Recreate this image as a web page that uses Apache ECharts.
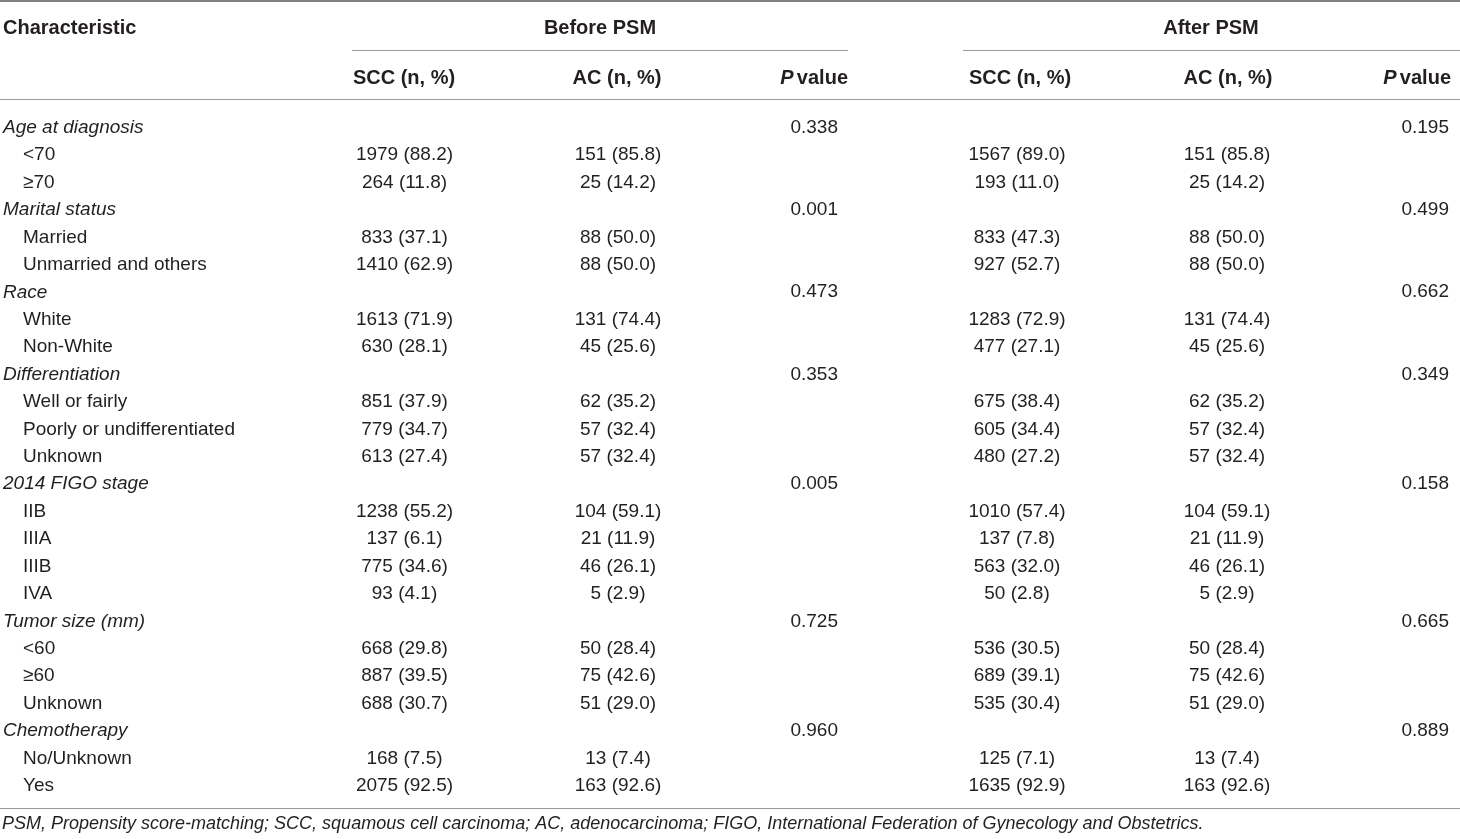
<!DOCTYPE html>
<html>
<head>
<meta charset="utf-8">
<title>Baseline characteristics before and after PSM</title>
<script src="https://cdn.jsdelivr.net/npm/echarts@6/dist/echarts.min.js"></script>
<style>
  html, body { margin: 0; padding: 0; background: #fff; }
  #main { width: 1460px; height: 839px; }
</style>
</head>
<body>
<div id="main"></div>
<script>
// table content
const characteristics = [
  'Age at diagnosis', '<70', '≥70',
  'Marital status', 'Married', 'Unmarried and others',
  'Race', 'White', 'Non-White',
  'Differentiation', 'Well or fairly', 'Poorly or undifferentiated', 'Unknown',
  '2014 FIGO stage', 'IIB', 'IIIA', 'IIIB', 'IVA',
  'Tumor size (mm)', '<60', '≥60', 'Unknown',
  'Chemotherapy', 'No/Unknown', 'Yes'
]
const beforeScc = [
  '', '1979 (88.2)', '264 (11.8)',
  '', '833 (37.1)', '1410 (62.9)',
  '', '1613 (71.9)', '630 (28.1)',
  '', '851 (37.9)', '779 (34.7)', '613 (27.4)',
  '', '1238 (55.2)', '137 (6.1)', '775 (34.6)', '93 (4.1)',
  '', '668 (29.8)', '887 (39.5)', '688 (30.7)',
  '', '168 (7.5)', '2075 (92.5)'
]
const beforeAc = [
  '', '151 (85.8)', '25 (14.2)',
  '', '88 (50.0)', '88 (50.0)',
  '', '131 (74.4)', '45 (25.6)',
  '', '62 (35.2)', '57 (32.4)', '57 (32.4)',
  '', '104 (59.1)', '21 (11.9)', '46 (26.1)', '5 (2.9)',
  '', '50 (28.4)', '75 (42.6)', '51 (29.0)',
  '', '13 (7.4)', '163 (92.6)'
]
const beforeP = [
  '0.338', '', '',
  '0.001', '', '',
  '0.473', '', '',
  '0.353', '', '', '',
  '0.005', '', '', '', '',
  '0.725', '', '', '',
  '0.960', '', ''
]
const afterScc = [
  '', '1567 (89.0)', '193 (11.0)',
  '', '833 (47.3)', '927 (52.7)',
  '', '1283 (72.9)', '477 (27.1)',
  '', '675 (38.4)', '605 (34.4)', '480 (27.2)',
  '', '1010 (57.4)', '137 (7.8)', '563 (32.0)', '50 (2.8)',
  '', '536 (30.5)', '689 (39.1)', '535 (30.4)',
  '', '125 (7.1)', '1635 (92.9)'
]
const afterAc = [
  '', '151 (85.8)', '25 (14.2)',
  '', '88 (50.0)', '88 (50.0)',
  '', '131 (74.4)', '45 (25.6)',
  '', '62 (35.2)', '57 (32.4)', '57 (32.4)',
  '', '104 (59.1)', '21 (11.9)', '46 (26.1)', '5 (2.9)',
  '', '50 (28.4)', '75 (42.6)', '51 (29.0)',
  '', '13 (7.4)', '163 (92.6)'
]
const afterP = [
  '0.195', '', '',
  '0.499', '', '',
  '0.662', '', '',
  '0.349', '', '', '',
  '0.158', '', '', '', '',
  '0.665', '', '', '',
  '0.889', '', ''
]
const firstHeader = 'Characteristic'
const groupHeaders = ['Before PSM', 'After PSM']
const subHeaders = ['SCC (n, %)', 'AC (n, %)', 'value']
const footnote = 'PSM, Propensity score-matching; SCC, squamous cell carcinoma; AC, adenocarcinoma; FIGO, International Federation of Gynecology and Obstetrics.'

// layout
const FONT = '"Liberation Sans", Arial, Helvetica, sans-serif'
const TEXT = '#231f20'
const RULE = '#9a9a9a'
const W = 1460
const ROW_TOP = 114
const ROW_STEP = 27.42
const BODY_SIZE = 19
const HEAD_SIZE = 20

// x anchor + alignment per column (characteristic, SCC, AC, P, SCC, AC, P)
const columns = [
  { data: characteristics, x: 3, align: 'left' },
  { data: beforeScc, x: 404.5, align: 'center' },
  { data: beforeAc, x: 618, align: 'center' },
  { data: beforeP, x: 838, align: 'right' },
  { data: afterScc, x: 1017, align: 'center' },
  { data: afterAc, x: 1227, align: 'center' },
  { data: afterP, x: 1449, align: 'right' }
]
const isGroup = beforeP.map(p => p !== '')

const cells = []
columns.forEach((col, c) => {
  col.data.forEach((txt, r) => {
    if (txt !== '') cells.push([c, r])
  })
})

const myChart = echarts.init(document.getElementById('main'), null, { renderer: 'canvas' })

function renderCell(params, api) {
  const c = api.value(0)
  const r = api.value(1)
  const col = columns[c]
  const pt = api.coord([col.x, r])
  let x = pt[0]
  let italic = false
  if (c === 0) {
    italic = isGroup[r]
    if (!italic) x += 20
  }
  return {
    type: 'text',
    style: {
      text: col.data[r],
      x: x,
      y: pt[1],
      align: col.align,
      verticalAlign: 'middle',
      fill: TEXT,
      font: (italic ? 'italic ' : '') + BODY_SIZE + 'px ' + FONT
    }
  }
}

function hline(x1, x2, y, w, color) {
  return {
    type: 'line',
    shape: { x1: x1, y1: y, x2: x2, y2: y },
    style: { stroke: color || RULE, lineWidth: w || 1 },
    silent: true
  }
}

function headText(txt, x, y, align) {
  return {
    type: 'text',
    x: x, y: y,
    style: {
      text: txt,
      align: align,
      verticalAlign: 'middle',
      fill: TEXT,
      font: 'bold ' + HEAD_SIZE + 'px ' + FONT
    }
  }
}

function pHead(x, y) {
  return {
    type: 'text', x: x, y: y,
    style: {
      rich: {
        i: { fontStyle: 'italic', fontWeight: 'bold', fontSize: HEAD_SIZE, fontFamily: FONT, fill: TEXT },
        b: { fontWeight: 'bold', fontSize: HEAD_SIZE, fontFamily: FONT, fill: TEXT }
      },
      text: '{i|P} {b|' + subHeaders[2] + '}',
      align: 'right', verticalAlign: 'middle'
    }
  }
}

const option = {
  animation: false,
  grid: { left: 0, right: 0, top: ROW_TOP, height: ROW_STEP * characteristics.length },
  xAxis: { type: 'value', min: 0, max: W, show: false },
  yAxis: {
    type: 'category',
    inverse: true,
    data: characteristics.map((_, i) => i),
    show: false
  },
  series: [{
    type: 'custom',
    renderItem: renderCell,
    data: cells,
    encode: { x: 0, y: 1 },
    silent: true
  }],
  graphic: [
    hline(0, W, 1, 2, '#808080'),
    hline(352, 848, 50.5),
    hline(963, W, 50.5),
    hline(0, W, 99.5),
    hline(0, W, 808.5),
    headText(firstHeader, 3, 28, 'left'),
    headText(groupHeaders[0], 600, 28, 'center'),
    headText(groupHeaders[1], 1211, 28, 'center'),
    headText(subHeaders[0], 404, 78, 'center'),
    headText(subHeaders[1], 617, 78, 'center'),
    pHead(848, 78),
    headText(subHeaders[0], 1020, 78, 'center'),
    headText(subHeaders[1], 1228, 78, 'center'),
    pHead(1451, 78),
    {
      type: 'text', x: 2, y: 824,
      style: {
        text: footnote,
        align: 'left', verticalAlign: 'middle',
        fill: TEXT,
        font: 'italic 18px ' + FONT
      }
    }
  ]
}

myChart.setOption(option)
</script>
</body>
</html>
